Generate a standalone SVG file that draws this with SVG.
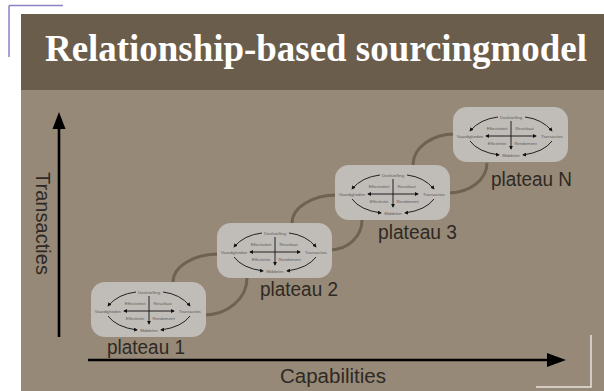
<svg xmlns="http://www.w3.org/2000/svg" width="604" height="391" viewBox="0 0 604 391">
  <defs>
    <style>
      .title { font-family: "Liberation Serif", "DejaVu Serif", serif; font-weight: bold; font-size: 38px; fill: #ffffff; }
      .axis-label { font-family: "Liberation Sans", Arial, sans-serif; font-size: 20px; fill: #2e2924; }
      .plateau { font-family: "Liberation Sans", Arial, sans-serif; font-size: 19.5px; fill: #2e2924; }
      .box { fill: #c0bcb8; }
      .t { font-family: "Liberation Sans", Arial, sans-serif; font-size: 4.3px; fill: #5e5b58; text-anchor: middle; }
      .arr { fill: none; stroke: #111; stroke-width: 0.9; }
      .link { fill: none; stroke: #6e6250; stroke-width: 3; }
      .axis { stroke: #000; stroke-width: 2.6; fill: none; }
    </style>
    <marker id="ah" viewBox="0 0 10 10" refX="8" refY="5" markerWidth="4" markerHeight="4" markerUnits="userSpaceOnUse" orient="auto-start-reverse">
      <path d="M0,0 L10,5 L0,10 Z" fill="#111"/>
    </marker>
  </defs>

  <!-- page -->
  <rect x="0" y="0" width="604" height="391" fill="#ffffff"/>
  <path d="M9,5.5 H63 M9,5.5 V57" stroke="#8a84c4" stroke-width="1.5" fill="none"/>
  <rect x="21" y="14" width="583" height="76" fill="#6b5d4b"/>
  <rect x="21" y="90" width="583" height="301" fill="#978977"/>
  <path d="M591,335 V387 H536" stroke="#e6e2dd" stroke-width="1.5" fill="none"/>

  <text class="title" x="45" y="61" textLength="542" lengthAdjust="spacingAndGlyphs">Relationship-based sourcingmodel</text>

  <!-- axes -->
  <g id="axes">
    <line class="axis" x1="59" y1="337" x2="59" y2="127"/>
    <polygon points="59,112 52.5,129 65.5,129" fill="#000"/>
    <line class="axis" x1="88" y1="360" x2="549" y2="360"/>
    <polygon points="566,360 547,353 547,367" fill="#000"/>
    <text class="axis-label" transform="translate(36,172) rotate(90)" textLength="103" lengthAdjust="spacingAndGlyphs">Transacties</text>
    <text class="axis-label" x="280" y="383" textLength="106" lengthAdjust="spacingAndGlyphs">Capabilities</text>
  </g>

  <!-- links between plateaus -->
  <g id="connectors">
    <path class="link" d="M219,254 A46,28 0 0 0 173,282"/>
    <path class="link" d="M204,315 A43,37 0 0 0 247,278"/>
    <path class="link" d="M337,195 A45,28 0 0 0 292,223"/>
    <path class="link" d="M330,250 A32,30 0 0 0 362,220"/>
    <path class="link" d="M455,134 A42,31 0 0 0 413,165"/>
    <path class="link" d="M448,193 A39,30 0 0 0 487,163"/>
  </g>

  <!-- plateau 1 -->
  <g id="plateau1">
    <g transform="translate(91,282)">
      <rect class="box" width="115" height="55" rx="14"/>
      <text class="t" x="58" y="11.5">Doelstelling</text>
      <text class="t" x="17" y="30.5">Vaardigheden</text>
      <text class="t" x="99" y="30.5">Transacties</text>
      <text class="t" x="58" y="49.5">Middelen</text>
      <text class="t" x="44" y="22.5">Effectiviteit</text>
      <text class="t" x="71.5" y="22.5">Resultaat</text>
      <text class="t" x="44" y="38">Efficiëntie</text>
      <text class="t" x="72.5" y="38">Rendement</text>
      <path class="arr" d="M33,29 H83" marker-start="url(#ah)" marker-end="url(#ah)"/>
      <path class="arr" d="M58,14 V42" marker-end="url(#ah)"/>
      <path class="arr" d="M45,10 Q27,12 17,24" marker-end="url(#ah)"/>
      <path class="arr" d="M72,10 Q89,12 99,24" marker-end="url(#ah)"/>
      <path class="arr" d="M17,34 Q25,45 46,48" marker-end="url(#ah)"/>
      <path class="arr" d="M99,34 Q91,45 70,48" marker-end="url(#ah)"/>
    </g>
    <text class="plateau" x="107" y="354" textLength="78" lengthAdjust="spacingAndGlyphs">plateau 1</text>
  </g>

  <!-- plateau 2 -->
  <g id="plateau2">
    <g transform="translate(217,223)">
      <rect class="box" width="115" height="55" rx="14"/>
      <text class="t" x="58" y="11.5">Doelstelling</text>
      <text class="t" x="17" y="30.5">Vaardigheden</text>
      <text class="t" x="99" y="30.5">Transacties</text>
      <text class="t" x="58" y="49.5">Middelen</text>
      <text class="t" x="44" y="22.5">Effectiviteit</text>
      <text class="t" x="71.5" y="22.5">Resultaat</text>
      <text class="t" x="44" y="38">Efficiëntie</text>
      <text class="t" x="72.5" y="38">Rendement</text>
      <path class="arr" d="M33,29 H83" marker-start="url(#ah)" marker-end="url(#ah)"/>
      <path class="arr" d="M58,14 V42" marker-end="url(#ah)"/>
      <path class="arr" d="M45,10 Q27,12 17,24" marker-end="url(#ah)"/>
      <path class="arr" d="M72,10 Q89,12 99,24" marker-end="url(#ah)"/>
      <path class="arr" d="M17,34 Q25,45 46,48" marker-end="url(#ah)"/>
      <path class="arr" d="M99,34 Q91,45 70,48" marker-end="url(#ah)"/>
    </g>
    <text class="plateau" x="260" y="296" textLength="78" lengthAdjust="spacingAndGlyphs">plateau 2</text>
  </g>

  <!-- plateau 3 -->
  <g id="plateau3">
    <g transform="translate(335,165)">
      <rect class="box" width="115" height="55" rx="14"/>
      <text class="t" x="58" y="11.5">Doelstelling</text>
      <text class="t" x="17" y="30.5">Vaardigheden</text>
      <text class="t" x="99" y="30.5">Transacties</text>
      <text class="t" x="58" y="49.5">Middelen</text>
      <text class="t" x="44" y="22.5">Effectiviteit</text>
      <text class="t" x="71.5" y="22.5">Resultaat</text>
      <text class="t" x="44" y="38">Efficiëntie</text>
      <text class="t" x="72.5" y="38">Rendement</text>
      <path class="arr" d="M33,29 H83" marker-start="url(#ah)" marker-end="url(#ah)"/>
      <path class="arr" d="M58,14 V42" marker-end="url(#ah)"/>
      <path class="arr" d="M45,10 Q27,12 17,24" marker-end="url(#ah)"/>
      <path class="arr" d="M72,10 Q89,12 99,24" marker-end="url(#ah)"/>
      <path class="arr" d="M17,34 Q25,45 46,48" marker-end="url(#ah)"/>
      <path class="arr" d="M99,34 Q91,45 70,48" marker-end="url(#ah)"/>
    </g>
    <text class="plateau" x="378" y="239" textLength="79" lengthAdjust="spacingAndGlyphs">plateau 3</text>
  </g>

  <!-- plateau N -->
  <g id="plateauN">
    <g transform="translate(453,107)">
      <rect class="box" width="115" height="55" rx="14"/>
      <text class="t" x="58" y="11.5">Doelstelling</text>
      <text class="t" x="17" y="30.5">Vaardigheden</text>
      <text class="t" x="99" y="30.5">Transacties</text>
      <text class="t" x="58" y="49.5">Middelen</text>
      <text class="t" x="44" y="22.5">Effectiviteit</text>
      <text class="t" x="71.5" y="22.5">Resultaat</text>
      <text class="t" x="44" y="38">Efficiëntie</text>
      <text class="t" x="72.5" y="38">Rendement</text>
      <path class="arr" d="M33,29 H83" marker-start="url(#ah)" marker-end="url(#ah)"/>
      <path class="arr" d="M58,14 V42" marker-end="url(#ah)"/>
      <path class="arr" d="M45,10 Q27,12 17,24" marker-end="url(#ah)"/>
      <path class="arr" d="M72,10 Q89,12 99,24" marker-end="url(#ah)"/>
      <path class="arr" d="M17,34 Q25,45 46,48" marker-end="url(#ah)"/>
      <path class="arr" d="M99,34 Q91,45 70,48" marker-end="url(#ah)"/>
    </g>
    <text class="plateau" x="491" y="186" textLength="81" lengthAdjust="spacingAndGlyphs">plateau N</text>
  </g>
</svg>
